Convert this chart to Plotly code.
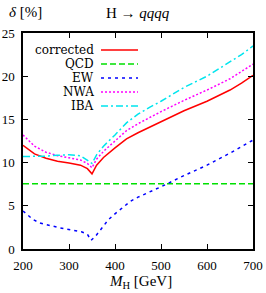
import plotly.graph_objects as go

# ---- data ----
mh_corr = [200, 225, 250, 275, 300, 325, 340, 350, 360, 375, 400, 425, 450, 475, 500, 550, 600, 650, 675, 700]
corrected = [12.0, 11.0, 10.5, 10.15, 9.95, 9.7, 9.3, 8.7, 9.7, 10.6, 11.7, 12.75, 13.45, 14.1, 14.7, 16.0, 17.1, 18.4, 19.2, 20.1]
nwa = [13.2, 11.9, 11.2, 10.8, 10.55, 10.3, 9.9, 9.4, 10.4, 11.3, 12.5, 13.7, 14.5, 15.2, 15.9, 17.2, 18.4, 19.7, 20.5, 21.4]
iba = [10.7, 10.7, 10.75, 10.85, 10.9, 10.8, 10.3, 9.9, 10.9, 11.9, 13.2, 14.6, 15.6, 16.4, 17.1, 18.7, 20.0, 21.6, 22.5, 23.5]

mh_ew = [200, 210, 222, 237, 251, 266, 280, 295, 309, 327, 340, 348, 358, 367, 385, 396, 409, 433, 450, 500, 550, 600, 650, 700]
ew = [4.4, 3.9, 3.4, 3.0, 2.8, 2.6, 2.45, 2.3, 2.15, 2.0, 1.7, 1.0, 1.5, 2.1, 3.35, 3.9, 4.5, 5.5, 6.0, 7.2, 8.5, 9.7, 11.1, 12.6]

mh_qcd = [200, 700]
qcd = [7.55, 7.55]

x_ticks = [200, 300, 400, 500, 600, 700]
y_ticks = [0, 5, 10, 15, 20, 25]

series = [
    ("corrected", mh_corr, corrected, "#ff0000", "solid"),
    ("QCD", mh_qcd, qcd, "#00e000", "6px,3px"),
    ("EW", mh_ew, ew, "#0000ff", "3px,4px"),
    ("NWA", mh_corr, nwa, "#ff00ff", "2px,2px"),
    ("IBA", mh_corr, iba, "#00e5ee", "7px,3px,2px,3px"),
]

FONT = "Liberation Serif, Times New Roman, serif"
LEG_FONT = "DejaVu Serif, Liberation Serif, serif"
W, H = 266, 293
L, R, T, B = 23, 13, 33, 44

fig = go.Figure()
for name, xs, ys, col, dash in series:
    fig.add_trace(go.Scatter(x=xs, y=ys, mode="lines", name=name,
                             line=dict(color=col, width=1.5, dash=dash),
                             showlegend=False, hoverinfo="skip"))

pw = W - L - R
ph = H - T - B
def px2paper_x(px):
    return (px - L) / pw
def py2paper_y(py):
    return (H - B - py) / ph

# legend (text to the left of the line sample)
leg_y = [50, 64, 78, 92, 106]
for (name, xs, ys, col, dash), yy in zip(series, leg_y):
    fig.add_annotation(x=px2paper_x(95), y=py2paper_y(yy), xref="paper", yref="paper",
                       text=name, showarrow=False, xanchor="right", yanchor="middle",
                       borderpad=0, font=dict(family=LEG_FONT, size=12, color="black"))
    fig.add_shape(type="line", xref="paper", yref="paper",
                  x0=px2paper_x(101), x1=px2paper_x(138),
                  y0=py2paper_y(yy), y1=py2paper_y(yy),
                  line=dict(color=col, width=1.5, dash=dash))

fig.add_annotation(x=px2paper_x(138), y=py2paper_y(13), xref="paper", yref="paper",
                   text="H → <i>qqqq</i>", showarrow=False, xanchor="center", yanchor="middle",
                   font=dict(family=FONT, size=15, color="black"))
fig.add_annotation(x=px2paper_x(7), y=py2paper_y(12), xref="paper", yref="paper",
                   text="<i>δ</i> [%]", showarrow=False, xanchor="left", yanchor="middle",
                   font=dict(family=FONT, size=15, color="black"))
fig.add_annotation(x=px2paper_x(140), y=py2paper_y(282), xref="paper", yref="paper",
                   text="<i>M</i><sub>H</sub> [GeV]", showarrow=False, xanchor="center", yanchor="middle",
                   font=dict(family=FONT, size=15, color="black"))

axis_common = dict(showline=True, linecolor="black", linewidth=1.5, mirror="ticks",
                   ticks="inside", ticklen=5, tickwidth=1.2, tickcolor="black",
                   showgrid=False, zeroline=False, automargin=False,
                   tickfont=dict(family=FONT, size=13, color="black"))
fig.update_xaxes(range=[200, 700], tickvals=x_ticks, ticklabelstandoff=4, **axis_common)
fig.update_yaxes(range=[0, 25], tickvals=y_ticks, ticklabelstandoff=4, **axis_common)

fig.update_layout(width=W, height=H, margin=dict(l=L, r=R, t=T, b=B, autoexpand=False),
                  paper_bgcolor="white", plot_bgcolor="white", hovermode=False)

fig.write_html("out.html", config={"displayModeBar": False},
               post_script="document.body.style.margin='0';document.body.style.padding='0';document.body.style.overflow='hidden';")
